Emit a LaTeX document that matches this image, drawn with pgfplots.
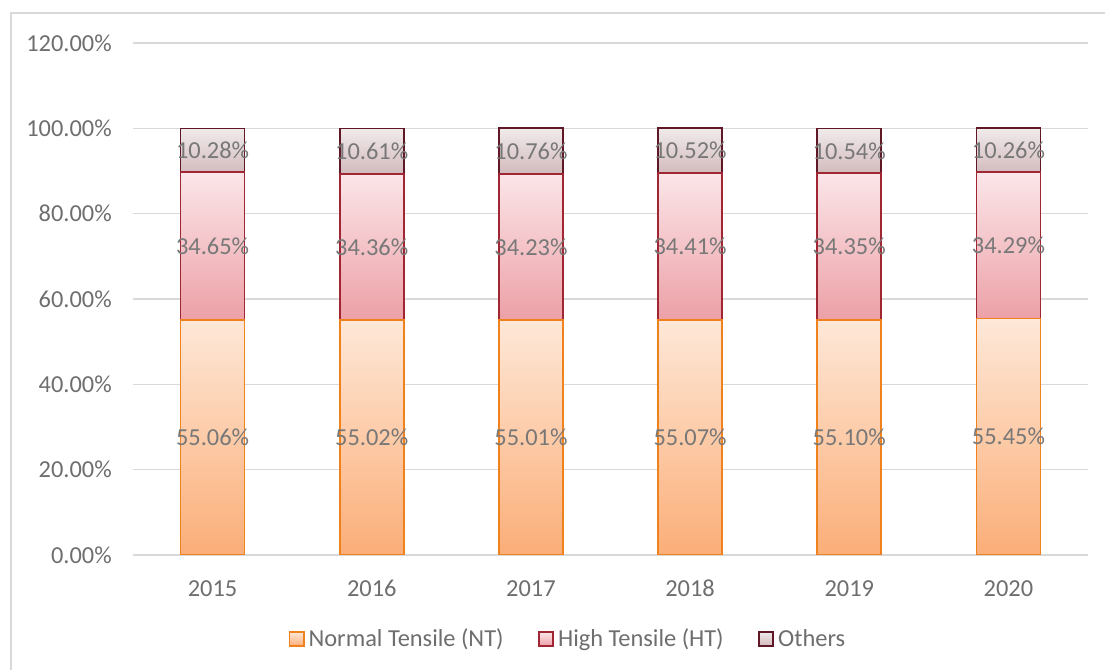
\documentclass[border=0pt]{standalone}
\usepackage{pgfplots}
\pgfplotsset{compat=1.18}
\usepackage{fontspec}
\setmainfont{Carlito}

\definecolor{framegray}{RGB}{217,217,217}
\definecolor{gridgray}{RGB}{217,217,217}
\definecolor{tickgray}{RGB}{110,110,110}
\definecolor{labgray}{RGB}{120,120,120}
\definecolor{ntTop}{RGB}{254,232,216}
\definecolor{ntBot}{RGB}{251,174,120}
\definecolor{ntLine}{RGB}{240,130,30}
\definecolor{htTop}{RGB}{251,230,233}
\definecolor{htBot}{RGB}{236,160,166}
\definecolor{htLine}{RGB}{160,38,52}
\definecolor{otTop}{RGB}{240,234,235}
\definecolor{otBot}{RGB}{210,186,188}
\definecolor{otLine}{RGB}{96,24,38}

\newcommand{\chartfont}{\fontsize{18.3}{22}\selectfont}

\pgfplotsset{
  sqlegend/.style={legend image code/.code={
    \draw[##1, line width=1.3pt] (0pt,-5.3pt) rectangle (10.6pt,5.3pt);}},
}

\begin{document}
\begin{tikzpicture}
\useasboundingbox (0,0) rectangle (828.75pt,502.5pt);
\draw[framegray, line width=1.2pt] (8.25pt,-10pt) -- (8.25pt,492.75pt) -- (840pt,492.75pt);

\begin{axis}[
    at={(99.75pt,86.25pt)}, anchor=south west,
    scale only axis, width=716.25pt, height=384pt,
    ybar stacked, bar width=48pt,
    xmin=-0.5, xmax=5.5, ymin=0, ymax=120,
    xtick={0,1,2,3,4,5},
    xticklabels={2015,2016,2017,2018,2019,2020},
    ytick={0,20,40,60,80,100,120},
    /pgf/number format/assume math mode=true,
    yticklabel={\pgfmathprintnumber[fixed,fixed zerofill,precision=2]{\tick}\%},
    axis line style={draw=none},
    major tick length=0pt,
    ymajorgrids, grid style={gridgray, line width=1.1pt},
    tick label style={font=\chartfont, text=tickgray},
    yticklabel style={anchor=east, inner sep=0pt, xshift=-15.75pt},
    xticklabel style={anchor=north, inner sep=0pt, yshift=-18.75pt},
    legend columns=-1,
    legend style={at={(0.4565,-0.164)}, anchor=center, draw=none,
        font=\chartfont, text=tickgray,
        nodes={inner xsep=3pt, inner ysep=1pt},
        /tikz/every even column/.append style={column sep=23pt}},
]
\addplot[sqlegend, draw=ntLine, line width=1.3pt, top color=ntTop, bottom color=ntBot]
  coordinates {(0,55.06) (1,55.02) (2,55.01) (3,55.07) (4,55.10) (5,55.45)};
\addplot[sqlegend, draw=htLine, line width=1.3pt, top color=htTop, bottom color=htBot]
  coordinates {(0,34.65) (1,34.36) (2,34.23) (3,34.41) (4,34.35) (5,34.29)};
\addplot[sqlegend, draw=otLine, line width=1.3pt, top color=otTop, bottom color=otBot]
  coordinates {(0,10.28) (1,10.61) (2,10.76) (3,10.52) (4,10.54) (5,10.26)};
\legend{Normal Tensile (NT), High Tensile (HT), Others}
\end{axis}

% data labels, centred in each segment
\begin{axis}[
    at={(99.75pt,86.25pt)}, anchor=south west,
    scale only axis, width=716.25pt, height=384pt,
    xmin=-0.5, xmax=5.5, ymin=0, ymax=120,
    hide axis, clip=false,
]
\addplot[only marks, mark=none, point meta=explicit symbolic,
    nodes near coords, nodes near coords align={center},
    every node near coord/.append style={font=\chartfont, text=labgray, anchor=center, inner sep=0pt}]
  coordinates {
    (0,27.53)[55.06\%] (1,27.51)[55.02\%] (2,27.505)[55.01\%]
    (3,27.535)[55.07\%] (4,27.55)[55.10\%] (5,27.725)[55.45\%]
    (0,72.385)[34.65\%] (1,72.20)[34.36\%] (2,72.125)[34.23\%]
    (3,72.275)[34.41\%] (4,72.275)[34.35\%] (5,72.595)[34.29\%]
    (0,94.85)[10.28\%] (1,94.685)[10.61\%] (2,94.62)[10.76\%]
    (3,94.74)[10.52\%] (4,94.72)[10.54\%] (5,94.87)[10.26\%]
  };
\end{axis}
\end{tikzpicture}
\end{document}
